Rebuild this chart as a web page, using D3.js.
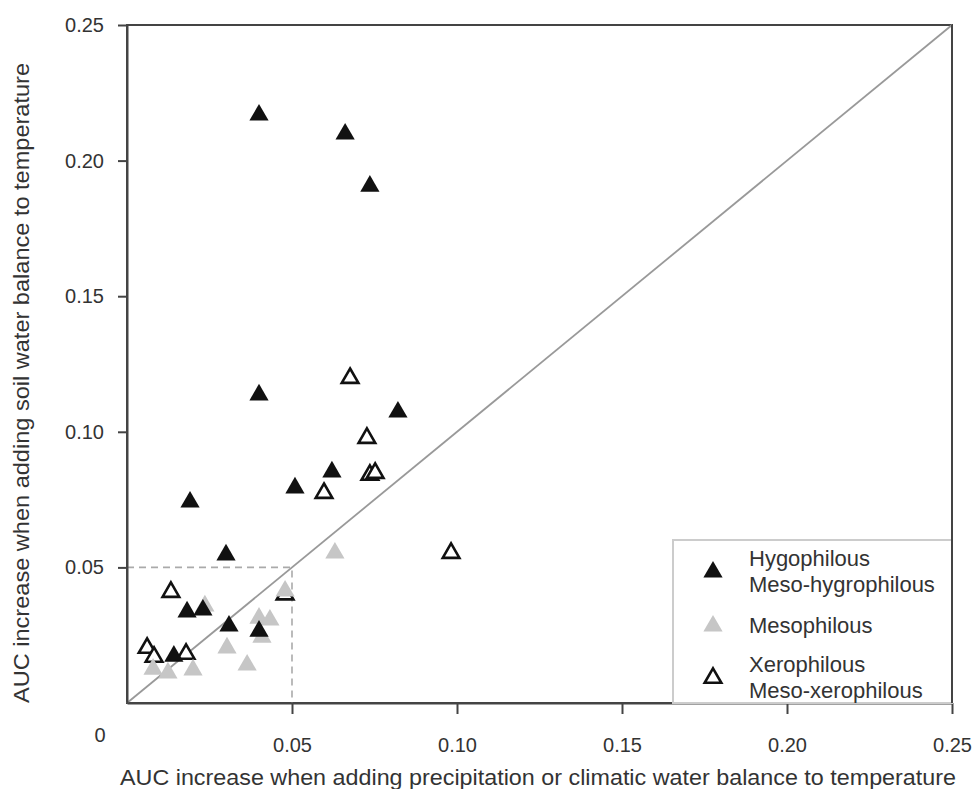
<!DOCTYPE html>
<html><head><meta charset="utf-8">
<script src="https://cdn.jsdelivr.net/npm/d3@7"></script>
<style>body{margin:0;background:#fff}svg{display:block}text{font-family:"Liberation Sans",Arial,sans-serif;fill:#333}</style>
</head><body>
<svg id="c" width="973" height="789"></svg>
<script>
const xTicks = [0.05, 0.10, 0.15, 0.20, 0.25];
const yTicks = [0.05, 0.10, 0.15, 0.20, 0.25];
const xLabel = "AUC increase when adding precipitation or climatic water balance to temperature";
const yLabel = "AUC increase when adding soil water balance to temperature";
const legendLabels = [["Hygophilous","Meso-hygrophilous"],["Mesophilous"],["Xerophilous","Meso-xerophilous"]];

const hygroX = [0.0400,0.0661,0.0736,0.0400,0.0821,0.0191,0.0509,0.0621,0.0300,0.0182,0.0230,0.0309,0.0400,0.0142];
const hygroY = [0.2168,0.2098,0.1906,0.1136,0.1073,0.0741,0.0793,0.0852,0.0546,0.0336,0.0343,0.0284,0.0265,0.0173];
const mesoX = [0.0630,0.0479,0.0400,0.0433,0.0409,0.0364,0.0303,0.0236,0.0079,0.0124,0.0200];
const mesoY = [0.0553,0.0413,0.0313,0.0306,0.0243,0.0140,0.0203,0.0358,0.0125,0.0111,0.0122];
const xeroX = [0.0676,0.0727,0.0736,0.0752,0.0597,0.0982,0.0133,0.0061,0.0082,0.0179,0.0479];
const xeroY = [0.1198,0.0977,0.0841,0.0848,0.0774,0.0553,0.0409,0.0203,0.0170,0.0181,0.0400];

const svg = d3.select("#c");
const L=127,R=952,T=25,B=703;
const x = d3.scaleLinear().domain([0,0.25]).range([L,R]);
const y = d3.scaleLinear().domain([0,0.25]).range([B,T]);
const fmt = d => d.toFixed(2);

// frame
svg.append("rect").attr("x",L).attr("y",T).attr("width",R-L).attr("height",B-T)
  .attr("fill","none").attr("stroke","#444").attr("stroke-width",2);

// dashed box
svg.append("path").attr("d",`M${x(0)},${y(0.05)}H${x(0.05)}V${y(0)}`)
  .attr("fill","none").attr("stroke","#aaa").attr("stroke-width",1.6).attr("stroke-dasharray","7,5");

// 1:1 line
svg.append("line").attr("x1",x(0)).attr("y1",y(0)).attr("x2",x(0.25)).attr("y2",y(0.25))
  .attr("stroke","#999").attr("stroke-width",1.8);

// axes
const xa = svg.append("g").attr("transform",`translate(0,${B})`)
  .call(d3.axisBottom(x).tickValues(xTicks).tickFormat(fmt).tickSize(11).tickSizeOuter(0));
const ya = svg.append("g").attr("transform",`translate(${L},0)`)
  .call(d3.axisLeft(y).tickValues(yTicks).tickFormat(fmt).tickSize(9).tickSizeOuter(0));
[xa,ya].forEach(g=>{g.select(".domain").attr("stroke","#444").attr("stroke-width",2);
  g.selectAll(".tick line").attr("stroke","#444").attr("stroke-width",2);
  g.selectAll(".tick text").style("font-size","20px").attr("fill","#333");});
xa.selectAll(".tick text").attr("dy","1.75em");
ya.selectAll(".tick text").attr("dx","-0.55em");
svg.append("text").attr("x",100).attr("y",742).attr("text-anchor","middle").style("font-size","20px").text("0");

// axis titles
svg.append("text").attr("x",538).attr("y",785).attr("text-anchor","middle").style("font-size","22px")
  .attr("textLength",836).attr("lengthAdjust","spacingAndGlyphs").text(xLabel);
svg.append("text").attr("transform",`translate(29,383) rotate(-90)`).attr("text-anchor","middle").style("font-size","22px")
  .attr("textLength",640).attr("lengthAdjust","spacingAndGlyphs").text(yLabel);

// points
const tri = d3.symbol().type(d3.symbolTriangle).size(160);
const triO = d3.symbol().type(d3.symbolTriangle).size(120);
function plot(xs,ys,fill,stroke,sym,sw){
  svg.append("g").selectAll("path").data(xs.map((v,i)=>[v,ys[i]])).join("path")
    .attr("d",sym).attr("transform",d=>`translate(${x(d[0])},${y(d[1])})`)
    .attr("fill",fill).attr("stroke",stroke).attr("stroke-width",sw);
}
plot(xeroX,xeroY,"#fff","#111",triO,2.6);
plot(mesoX,mesoY,"#c6c6c6","none",tri,0);
plot(hygroX,hygroY,"#111","none",tri,0);

// legend
const lg = svg.append("g");
lg.append("rect").attr("x",673).attr("y",540).attr("width",R-673).attr("height",B-540)
  .attr("fill","#fff").attr("stroke","#ccc").attr("stroke-width",2);
svg.append("line").attr("x1",R).attr("y1",T).attr("x2",R).attr("y2",B).attr("stroke","#444").attr("stroke-width",2);
const legY = [572, 626, 678];
const legStyles = [["#111","none",tri,0],["#c6c6c6","none",tri,0],["#fff","#111",triO,2.6]];
legendLabels.forEach((lines,i)=>{
  const s = legStyles[i];
  lg.append("path").attr("d",s[2]).attr("transform",`translate(713,${legY[i]})`)
    .attr("fill",s[0]).attr("stroke",s[1]).attr("stroke-width",s[3]);
  const t = lg.append("text").attr("x",749).attr("y",legY[i] - (lines.length-1)*13 + 7).style("font-size","22px");
  lines.forEach((ln,j)=>t.append("tspan").attr("x",749).attr("dy",j?26:0).text(ln));
});
</script>
</body></html>
